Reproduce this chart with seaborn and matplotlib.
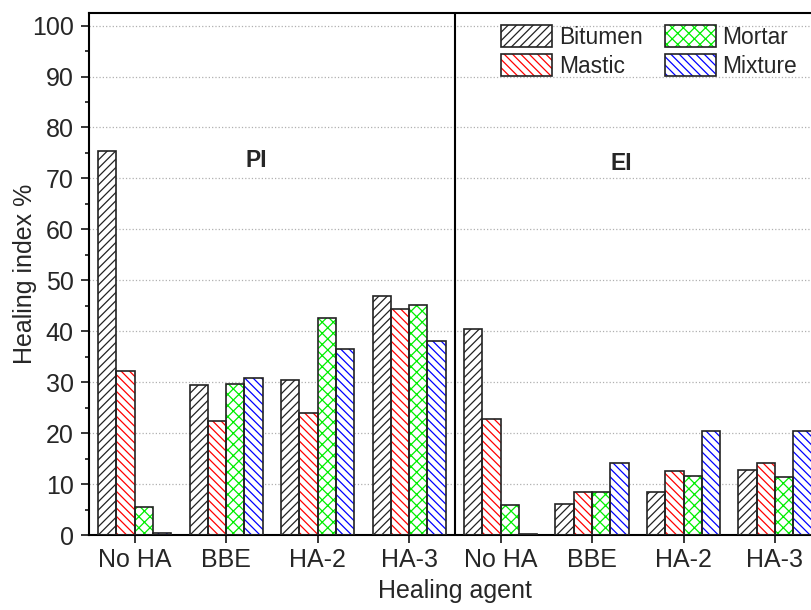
import matplotlib
matplotlib.use("Agg")
import matplotlib.pyplot as plt
import seaborn as sns
import pandas as pd
from matplotlib.patches import Patch, Rectangle
from matplotlib.legend_handler import HandlerTuple
from matplotlib.ticker import MultipleLocator

# ---- data ----
agents = ["No HA", "BBE", "HA-2", "HA-3", "No HA", "BBE", "HA-2", "HA-3"]
panels = ["PI", "PI", "PI", "PI", "EI", "EI", "EI", "EI"]
materials = ["Bitumen", "Mastic", "Mortar", "Mixture"]
bitumen = [75.3, 29.4, 30.5, 46.9, 40.4, 6.2, 8.4, 12.9]
mastic = [32.3, 22.5, 23.9, 44.3, 22.9, 8.5, 12.7, 14.1]
mortar = [5.5, 29.7, 42.7, 45.2, 5.9, 8.4, 11.7, 11.5]
mixture = [0.4, 30.8, 36.5, 38.1, 0.2, 14.1, 20.5, 20.4]
hatch_colors = ["#222222", "#ff0000", "#00ee00", "#0000ff"]
hatches = ["////", "\\\\\\\\", "xxx", "\\\\\\\\"]

keys = [f"{p} {a}" for p, a in zip(panels, agents)]
rows = []
for mat, vals in zip(materials, [bitumen, mastic, mortar, mixture]):
    for k, v in zip(keys, vals):
        rows.append({"key": k, "Material": mat, "value": v})
df = pd.DataFrame(rows)

# ---- style ----
sns.set_style("ticks")
plt.rcParams["font.family"] = ["Liberation Sans", "DejaVu Sans"]
plt.rcParams["hatch.linewidth"] = 0.9

fig = plt.figure(figsize=(8.11, 6.10), dpi=100)
ax = fig.add_axes([89 / 811, (610 - 535.3) / 610, 731.7 / 811, 522 / 610])

sns.barplot(data=df, x="key", y="value", hue="Material", order=keys,
            hue_order=materials, palette=hatch_colors, width=0.8,
            legend=False, ax=ax, errorbar=None, saturation=1)

n = len(keys)
for i, patch in enumerate(list(ax.patches)):
    j = i // n
    patch.set_facecolor("white")
    patch.set_edgecolor(hatch_colors[j])
    patch.set_hatch(hatches[j])
    patch.set_linewidth(0)
    ax.add_patch(Rectangle(patch.get_xy(), patch.get_width(), patch.get_height(),
                           fill=False, edgecolor="#222222", linewidth=1.2, zorder=3))

ax.set_xlim(-0.5, 7.5)
ax.set_ylim(0, 102.4)
ax.set_xticks(range(n))
ax.set_xticklabels(agents, fontsize=18)
ax.yaxis.set_major_locator(MultipleLocator(10))
ax.yaxis.set_minor_locator(MultipleLocator(5))
ax.tick_params(axis="y", which="major", direction="out", length=6, width=1.3,
               labelsize=18, pad=5)
ax.tick_params(axis="y", which="minor", direction="out", length=3, width=1.3)
ax.tick_params(axis="x", which="major", direction="out", length=6, width=1.3,
               labelsize=18, pad=3)
ax.grid(axis="y", which="major", linestyle=":", color="#b0b0b0", linewidth=0.9)
ax.set_axisbelow(True)
for s in ["left", "bottom", "top", "right"]:
    ax.spines[s].set_linewidth(1.5)
    ax.spines[s].set_color("black")

ax.axvline(3.5, color="black", linewidth=1.5, zorder=4)
ax.set_xlabel("Healing agent", fontsize=18, labelpad=5)
ax.set_ylabel("Healing index %", fontsize=18, labelpad=-4)

ax.text(1.33, 73.6, "PI", fontsize=16.5, fontweight="bold", ha="center", va="center")
ax.text(5.32, 72.9, "EI", fontsize=16.5, fontweight="bold", ha="center", va="center")

handles = []
for c, h in zip(hatch_colors, hatches):
    handles.append((Patch(facecolor="white", edgecolor=c, hatch=h, linewidth=0),
                    Patch(facecolor="none", edgecolor="#222222", linewidth=1.2)))
leg = fig.legend(handles, materials, ncol=2, loc="upper left",
                 bbox_to_anchor=(499 / 811, (610 - 23) / 610),
                 handler_map={tuple: HandlerTuple(ndivide=1)},
                 frameon=False, fontsize=16.4, handlelength=2.24, handleheight=1.1,
                 handletextpad=0.28, columnspacing=0.97, labelspacing=0.22,
                 borderpad=0.1, borderaxespad=0)

fig.savefig("out.png", dpi=100)
